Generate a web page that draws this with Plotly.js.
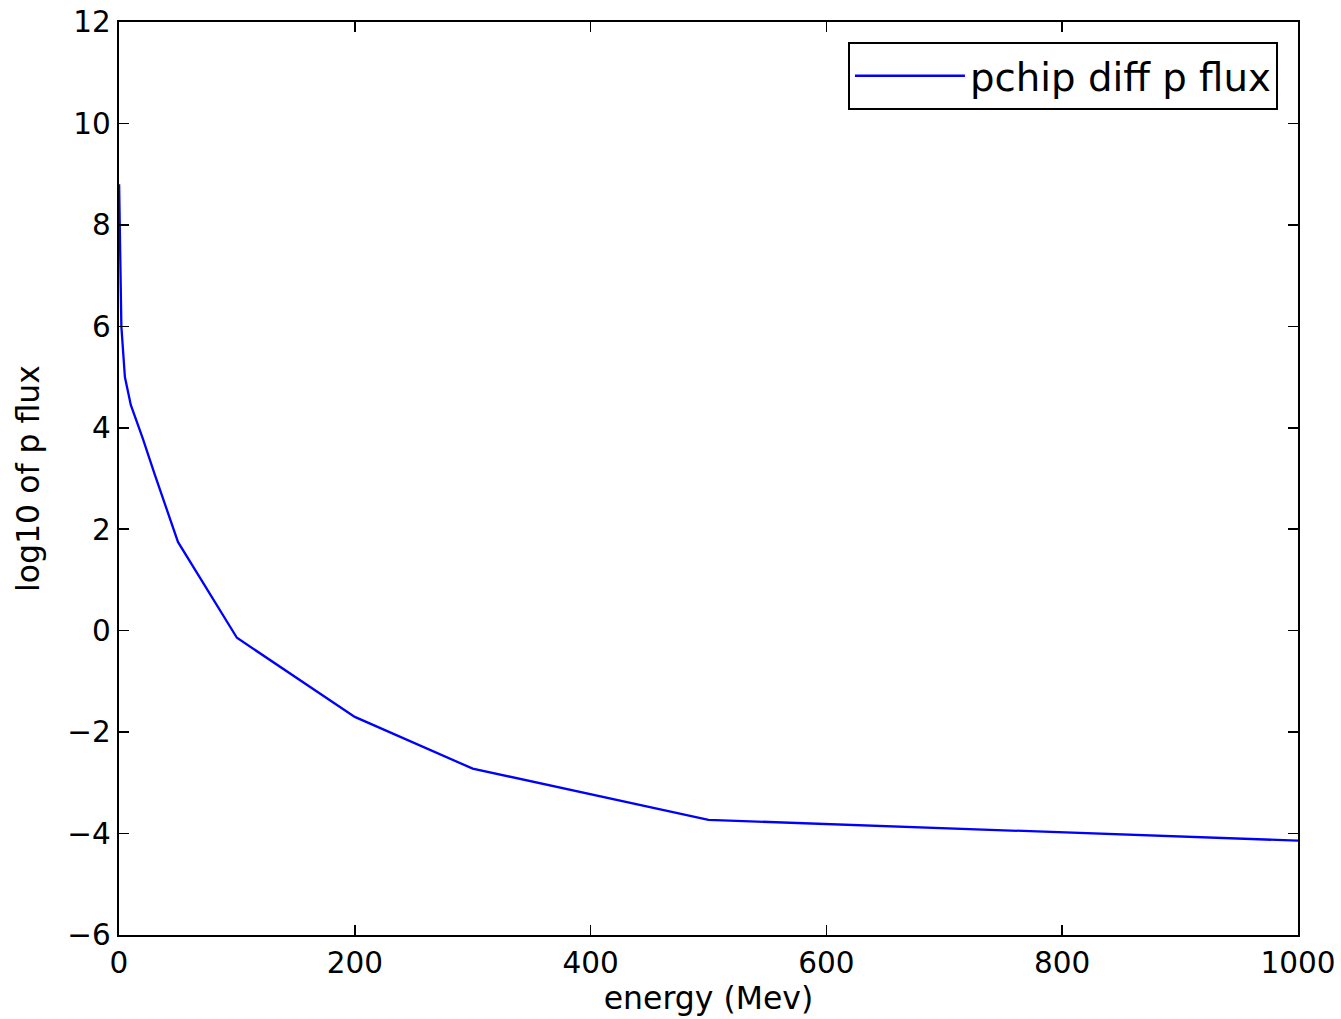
<!DOCTYPE html>
<html>
<head>
<meta charset="utf-8">
<script src="https://cdn.plot.ly/plotly-3.0.1.min.js"></script>
<style>html,body{margin:0;padding:0;background:#fff;}</style>
</head>
<body>
<div id="chart" style="width:1341px;height:1019px;"></div>
<script>
// energy (MeV) and log10 of differential proton flux
const energy = [0.1, 1, 2, 5, 10, 20, 30, 50, 100, 200, 300, 500, 1000];
const logFlux = [8.8, 7.0, 6.0, 5.0, 4.45, 3.8, 3.1, 1.75, -0.14, -1.7, -2.72, -3.73, -4.14];
const seriesName = "pchip diff p flux";
const xTicks = [0, 200, 400, 600, 800, 1000];
const yTicks = [-6, -4, -2, 0, 2, 4, 6, 8, 10, 12];

const font = "DejaVu Sans, sans-serif";
const trace = {
  x: energy, y: logFlux, mode: "lines", name: seriesName,
  line: {color: "#0000ff", width: 2.3}
};
const axisCommon = {
  showline: true, linecolor: "#000", linewidth: 2.3, mirror: "ticks",
  ticks: "inside", ticklen: 10, tickwidth: 1.5, tickcolor: "#000",
  showgrid: false, zeroline: false,
  tickfont: {family: font, size: 29.5, color: "#000"}
};
const layout = {
  width: 1341, height: 1019,
  margin: {l: 119, r: 43, t: 22, b: 84},
  paper_bgcolor: "#fff", plot_bgcolor: "#fff",
  showlegend: true,
  legend: {
    x: 0.983, y: 0.978, xanchor: "right", yanchor: "top",
    bordercolor: "#000", borderwidth: 2, bgcolor: "#fff",
    itemwidth: 110,
    font: {family: font, size: 38.7, color: "#000"}
  },
  xaxis: Object.assign({}, axisCommon, {
    range: [0, 1000], tickvals: xTicks, ticktext: xTicks.map(String),
    title: {text: "energy (Mev)", font: {family: font, size: 31.5, color: "#000"}, standoff: 6}
  }),
  yaxis: Object.assign({}, axisCommon, {
    range: [-6, 12], tickvals: yTicks, ticktext: yTicks.map(v => v < 0 ? "\u2212" + Math.abs(v) : String(v)),
    title: {text: "log10 of p flux", font: {family: font, size: 31.5, color: "#000"}, standoff: 18}
  })
};
Plotly.newPlot("chart", [trace], layout, {displayModeBar: false, staticPlot: true});
</script>
</body>
</html>
